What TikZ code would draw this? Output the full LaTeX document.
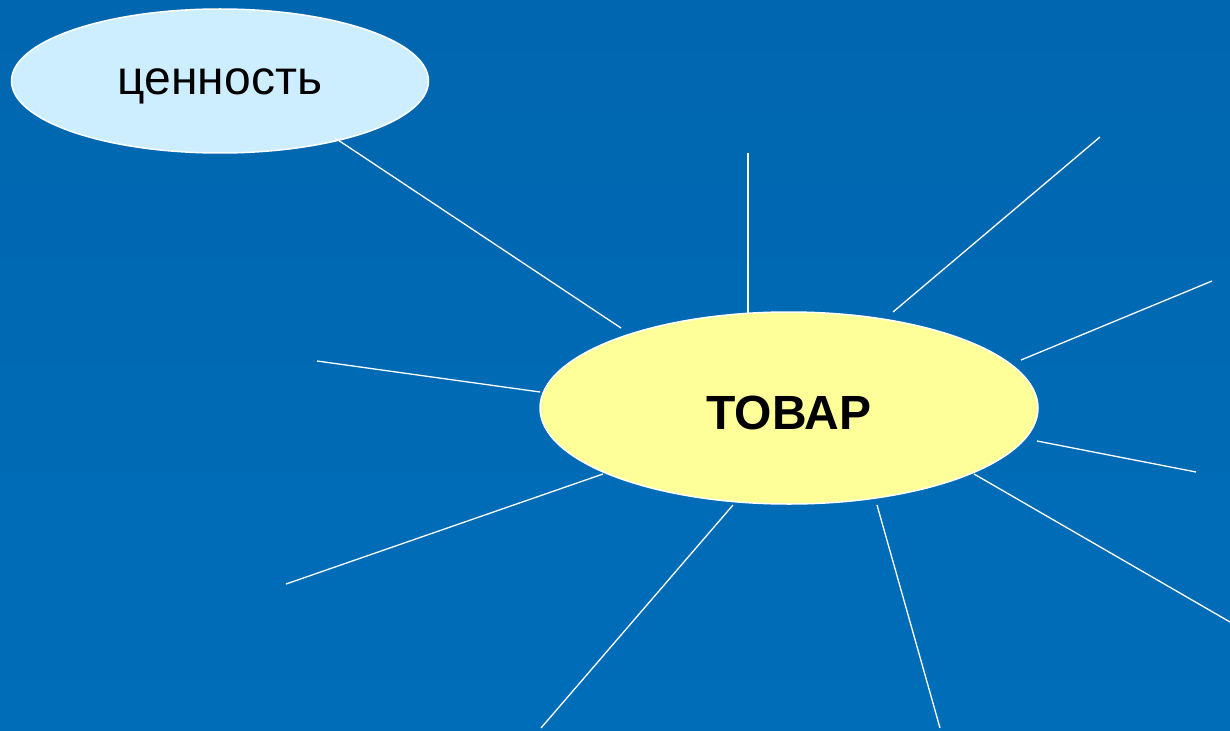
\documentclass[tikz,border=0pt]{standalone}
\usepackage{fontspec}
\setmainfont{Liberation Sans}
\usetikzlibrary{shapes.geometric}
\definecolor{bgtop}{HTML}{0066AF}
\definecolor{bgbot}{HTML}{006DB9}
\definecolor{lightblue}{HTML}{CCEEFF}
\definecolor{lightyellow}{HTML}{FFFF99}
\begin{document}
\begin{tikzpicture}[x=1pt,y=-1pt,
  bubble/.style={ellipse,draw=white,line width=1.5pt,inner sep=0pt,text=black},
  ray/.style={draw=white,line width=1.3pt}]
\shade[top color=bgtop,bottom color=bgbot] (0,0) rectangle (1230,730);
\useasboundingbox (0,0) rectangle (1230,730);
\node[bubble,fill=lightblue,minimum width=417pt,minimum height=144pt,
  text height=28pt,text depth=0pt,
  font=\fontsize{48}{52}\selectfont] (val) at (220,81) {ценность};
\node[bubble,fill=lightyellow,minimum width=498pt,minimum height=192pt,
  text height=42pt,text depth=0pt,
  font=\fontsize{48}{52}\selectfont\bfseries] (tovar) at (789,408) {ТОВАР};
\coordinate (a0) at (335,138); \coordinate (a1) at (621,328);
\coordinate (b1) at (748,153); \coordinate (b2) at (748,313);
\coordinate (c1) at (1100,137); \coordinate (c2) at (893,312);
\coordinate (d1) at (1212,281); \coordinate (d2) at (1021,360);
\coordinate (e1) at (1037,441); \coordinate (e2) at (1196,472);
\coordinate (f1) at (974,474); \coordinate (f2) at (1230,622);
\coordinate (g1) at (877,505); \coordinate (g2) at (940,728);
\coordinate (h1) at (733,505); \coordinate (h2) at (541,728);
\coordinate (i1) at (603,474); \coordinate (i2) at (286,584);
\coordinate (j1) at (540,392); \coordinate (j2) at (317,361);
\draw[ray] (a0) -- (a1);
\draw[ray] (b1) -- (b2);
\draw[ray] (c1) -- (c2);
\draw[ray] (d1) -- (d2);
\draw[ray] (e1) -- (e2);
\draw[ray] (f1) -- (f2);
\draw[ray] (g1) -- (g2);
\draw[ray] (h1) -- (h2);
\draw[ray] (i1) -- (i2);
\draw[ray] (j1) -- (j2);
\end{tikzpicture}
\end{document}
